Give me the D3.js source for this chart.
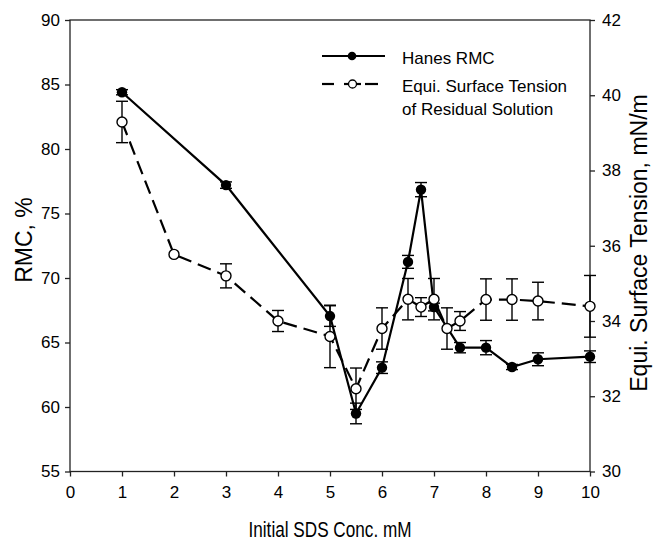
<!DOCTYPE html>
<html><head><meta charset="utf-8">
<script src="https://cdn.jsdelivr.net/npm/d3@7"></script>
<style>body{margin:0;background:#fff}svg{display:block}text{font-family:Arial,"Liberation Sans",sans-serif;fill:#000}</style>
</head><body>
<script>
const xTicks = [0,1,2,3,4,5,6,7,8,9,10];
const leftTicks = [55,60,65,70,75,80,85,90];
const rightTicks = [30,32,34,36,38,40,42];
const xRMC = [1,3,5,5.5,6,6.5,6.75,7,7.5,8,8.5,9,10];
const rmc = [84.4,77.2,67.05,59.5,63.05,71.25,76.85,67.75,64.6,64.6,63.1,63.7,63.9];
const rmcErr = [0.2,0.25,0.8,0.8,0.45,0.5,0.55,0.3,0.4,0.55,0.2,0.5,0.45];
const xST = [1,2,3,4,5,5.5,6,6.5,6.75,7,7.25,7.5,8,8.5,9,10];
const tension = [39.29,35.77,35.2,34.0,33.59,32.2,33.8,34.58,34.37,34.58,33.8,34.0,34.57,34.57,34.53,34.39];
const tensionErr = [0.55,0,0.32,0.28,0.83,0.55,0.55,0.55,0.25,0.55,0.55,0.25,0.55,0.55,0.5,0.82];
const seriesNames = ["Hanes RMC","Equi. Surface Tension","of Residual Solution"];

const W=654,H=544;
const L=70,R=590,T=20,B=471.5;
const svg=d3.select("body").append("svg").attr("width",W).attr("height",H);
const x=d3.scaleLinear().domain([0,10]).range([L,R]);
const yL=d3.scaleLinear().domain([55,90]).range([B,T]);
const yR=d3.scaleLinear().domain([30,42]).range([B,T]);
const axCol="#222";

function styleAxis(g){g.select(".domain").remove();g.selectAll("line").attr("stroke",axCol).attr("stroke-width",1.3);
  g.selectAll("text").style("font-size","17px").attr("fill","#000");}
svg.append("g").attr("transform",`translate(0,${B})`).call(d3.axisBottom(x).tickValues(xTicks).tickSize(5).tickPadding(9).tickFormat(d3.format("d"))).call(styleAxis);
svg.append("g").attr("transform",`translate(${L},0)`).call(d3.axisLeft(yL).tickValues(leftTicks).tickSize(5).tickPadding(5)).call(styleAxis);
svg.append("g").attr("transform",`translate(${R},0)`).call(d3.axisRight(yR).tickValues(rightTicks).tickSize(5).tickPadding(7)).call(styleAxis);
svg.append("rect").attr("x",L).attr("y",T).attr("width",R-L).attr("height",B-T).attr("fill","none").attr("stroke",axCol).attr("stroke-width",1.3);

// titles
svg.append("text").attr("x",(L+R)/2).attr("y",537).attr("text-anchor","middle").style("font-size","22px")
  .attr("textLength",163).attr("lengthAdjust","spacingAndGlyphs").text("Initial SDS Conc. mM");
svg.append("text").attr("transform","translate(32,240) rotate(-90)").attr("text-anchor","middle").style("font-size","23px").text("RMC, %");
svg.append("text").attr("transform","translate(647,243) rotate(-90)").attr("text-anchor","middle").style("font-size","23px").text("Equi. Surface Tension, mN/m");

const cap=6;
function errBars(xs,ys,es,ys_scale){
  const g=svg.append("g").attr("stroke","#000").attr("stroke-width",1.4);
  xs.forEach((xv,i)=>{ if(!es[i]) return;
    const cx=x(xv),y1=ys_scale(ys[i]+es[i]),y2=ys_scale(ys[i]-es[i]);
    g.append("line").attr("x1",cx).attr("x2",cx).attr("y1",y1).attr("y2",y2);
    g.append("line").attr("x1",cx-cap).attr("x2",cx+cap).attr("y1",y1).attr("y2",y1);
    g.append("line").attr("x1",cx-cap).attr("x2",cx+cap).attr("y1",y2).attr("y2",y2);
  });
}
// tension series
errBars(xST,tension,tensionErr,yR);
svg.append("path").datum(xST.map((d,i)=>[d,tension[i]]))
  .attr("d",d3.line().x(d=>x(d[0])).y(d=>yR(d[1])))
  .attr("fill","none").attr("stroke","#000").attr("stroke-width",2.2).attr("stroke-dasharray","14,7");
// RMC series
errBars(xRMC,rmc,rmcErr,yL);
svg.append("path").datum(xRMC.map((d,i)=>[d,rmc[i]]))
  .attr("d",d3.line().x(d=>x(d[0])).y(d=>yL(d[1])))
  .attr("fill","none").attr("stroke","#000").attr("stroke-width",2.2);
svg.append("g").selectAll("circle").data(xRMC).join("circle")
  .attr("cx",d=>x(d)).attr("cy",(d,i)=>yL(rmc[i])).attr("r",5.2).attr("fill","#000");
svg.append("g").selectAll("circle").data(xST).join("circle")
  .attr("cx",d=>x(d)).attr("cy",(d,i)=>yR(tension[i])).attr("r",5).attr("fill","#fff").attr("stroke","#000").attr("stroke-width",1.4);

// legend
const lg=svg.append("g");
lg.append("line").attr("x1",322).attr("x2",385).attr("y1",56).attr("y2",56).attr("stroke","#000").attr("stroke-width",2.2);
lg.append("circle").attr("cx",352).attr("cy",56).attr("r",4.3).attr("fill","#000");
[[322,334],[344,349],[356,361],[365,378]].forEach(s=>lg.append("line").attr("x1",s[0]).attr("x2",s[1]).attr("y1",84).attr("y2",84).attr("stroke","#000").attr("stroke-width",2.2));
lg.append("circle").attr("cx",352.5).attr("cy",84).attr("r",4).attr("fill","#fff").attr("stroke","#000").attr("stroke-width",1.3);
lg.append("text").attr("x",402).attr("y",64).style("font-size","17px").text(seriesNames[0]);
lg.append("text").attr("x",402).attr("y",92).style("font-size","17px").text(seriesNames[1]);
lg.append("text").attr("x",402).attr("y",115).style("font-size","17px").text(seriesNames[2]);
</script>
</body></html>
